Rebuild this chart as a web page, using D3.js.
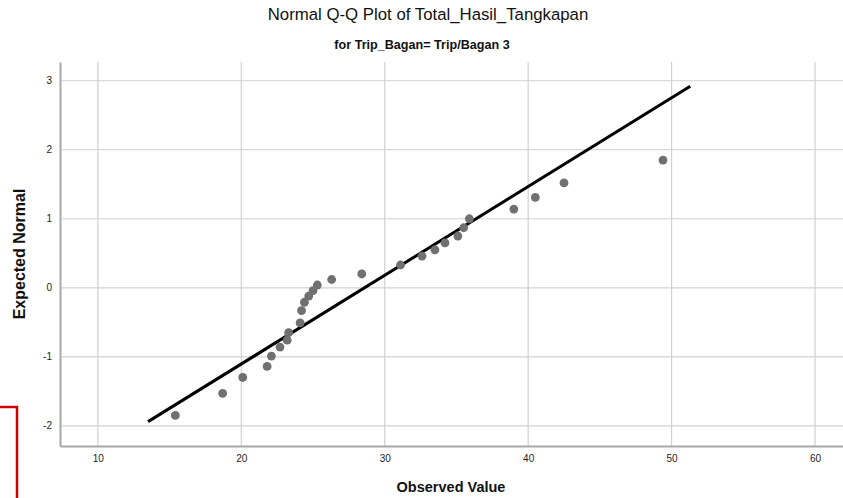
<!DOCTYPE html>
<html>
<head>
<meta charset="utf-8">
<script src="https://cdn.jsdelivr.net/npm/d3@7"></script>
<style>
  body { margin: 0; background: #fff; }
  svg { display: block; font-family: "Liberation Sans", Arial, sans-serif; }
</style>
</head>
<body>
<svg id="chart" width="843" height="498"></svg>
<script>
const observed = [15.4, 18.7, 20.1, 21.8, 22.1, 22.7, 23.2, 23.3, 24.1, 24.2, 24.4, 24.7, 25.0, 25.3,
                  26.3, 28.4, 31.1, 32.6, 33.5, 34.2, 35.1, 35.5, 35.9, 39.0, 40.5, 42.5, 49.4];
const expected = [-1.85, -1.53, -1.30, -1.14, -0.99, -0.86, -0.76, -0.65, -0.51, -0.33, -0.21, -0.12, -0.04, 0.04,
                  0.12, 0.20, 0.33, 0.46, 0.55, 0.65, 0.75, 0.87, 1.00, 1.14, 1.31, 1.52, 1.85];

// reference line ends [observed, expected]
const refLine = [[13.5, -1.94], [51.3, 2.92]];

const xTicks = [10, 20, 30, 40, 50, 60];
const yTicks = [-2, -1, 0, 1, 2, 3];

const title = "Normal Q-Q Plot of Total_Hasil_Tangkapan";
const subtitle = "for Trip_Bagan= Trip/Bagan 3";

const plotLeft = 60, plotRight = 843, plotTop = 62, plotBottom = 446;

const svg = d3.select("#chart");

const x = d3.scaleLinear().domain([7.36, 61.95]).range([plotLeft, plotRight]);
const y = d3.scaleLinear().domain([-2.293, 3.272]).range([plotBottom, plotTop]);

// gridlines
svg.append("g")
  .selectAll("line")
  .data(xTicks)
  .enter()
  .append("line")
  .attr("x1", d => x(d)).attr("x2", d => x(d))
  .attr("y1", plotTop).attr("y2", plotBottom)
  .attr("stroke", "#d0d0d0").attr("stroke-width", 1.2);

svg.append("g")
  .selectAll("line")
  .data(yTicks)
  .enter()
  .append("line")
  .attr("x1", plotLeft).attr("x2", plotRight)
  .attr("y1", d => y(d)).attr("y2", d => y(d))
  .attr("stroke", "#d0d0d0").attr("stroke-width", 1.2);

// axes (plain hyphen for negatives, like the original)
const xAxis = d3.axisBottom(x).tickValues(xTicks).tickFormat(d => String(d)).tickSize(0).tickPadding(9);
const yAxis = d3.axisLeft(y).tickValues(yTicks).tickFormat(d => String(d)).tickSize(0).tickPadding(8);

const gx = svg.append("g")
  .attr("transform", `translate(0, ${plotBottom})`)
  .call(xAxis);
const gy = svg.append("g")
  .attr("transform", `translate(${plotLeft}, 0)`)
  .call(yAxis);

[gx, gy].forEach(g => {
  g.select(".domain").attr("stroke", "#a8a8a8").attr("stroke-width", 2);
  g.selectAll("text")
    .attr("font-size", 10)
    .attr("fill", "#222")
    .attr("font-family", "Liberation Sans, Arial, sans-serif");
});

// reference line
svg.append("line")
  .attr("x1", x(refLine[0][0])).attr("y1", y(refLine[0][1]))
  .attr("x2", x(refLine[1][0])).attr("y2", y(refLine[1][1]))
  .attr("stroke", "#000").attr("stroke-width", 3);

// points
svg.append("g")
  .selectAll("circle")
  .data(observed.map((d, i) => [d, expected[i]]))
  .enter()
  .append("circle")
  .attr("cx", d => x(d[0]))
  .attr("cy", d => y(d[1]))
  .attr("r", 4.4)
  .attr("fill", "#707070");

// titles
svg.append("text")
  .attr("x", 428).attr("y", 20)
  .attr("text-anchor", "middle")
  .attr("font-size", 16.8)
  .attr("fill", "#111")
  .text(title);

svg.append("text")
  .attr("x", 422).attr("y", 49)
  .attr("text-anchor", "middle")
  .attr("font-size", 12.6).attr("font-weight", "bold")
  .attr("fill", "#111")
  .text(subtitle);

svg.append("text")
  .attr("x", 451).attr("y", 492)
  .attr("text-anchor", "middle")
  .attr("font-size", 14.5).attr("font-weight", "bold")
  .attr("fill", "#111")
  .text("Observed Value");

svg.append("text")
  .attr("transform", `translate(25, ${(plotTop + plotBottom) / 2}) rotate(-90)`)
  .attr("text-anchor", "middle")
  .attr("font-size", 16).attr("font-weight", "bold")
  .attr("fill", "#111")
  .text("Expected Normal");

// red selection box at bottom left of the screenshot
svg.append("rect")
  .attr("x", -5).attr("y", 407)
  .attr("width", 22).attr("height", 100)
  .attr("fill", "none")
  .attr("stroke", "#d40000").attr("stroke-width", 2.5);
</script>
</body>
</html>
